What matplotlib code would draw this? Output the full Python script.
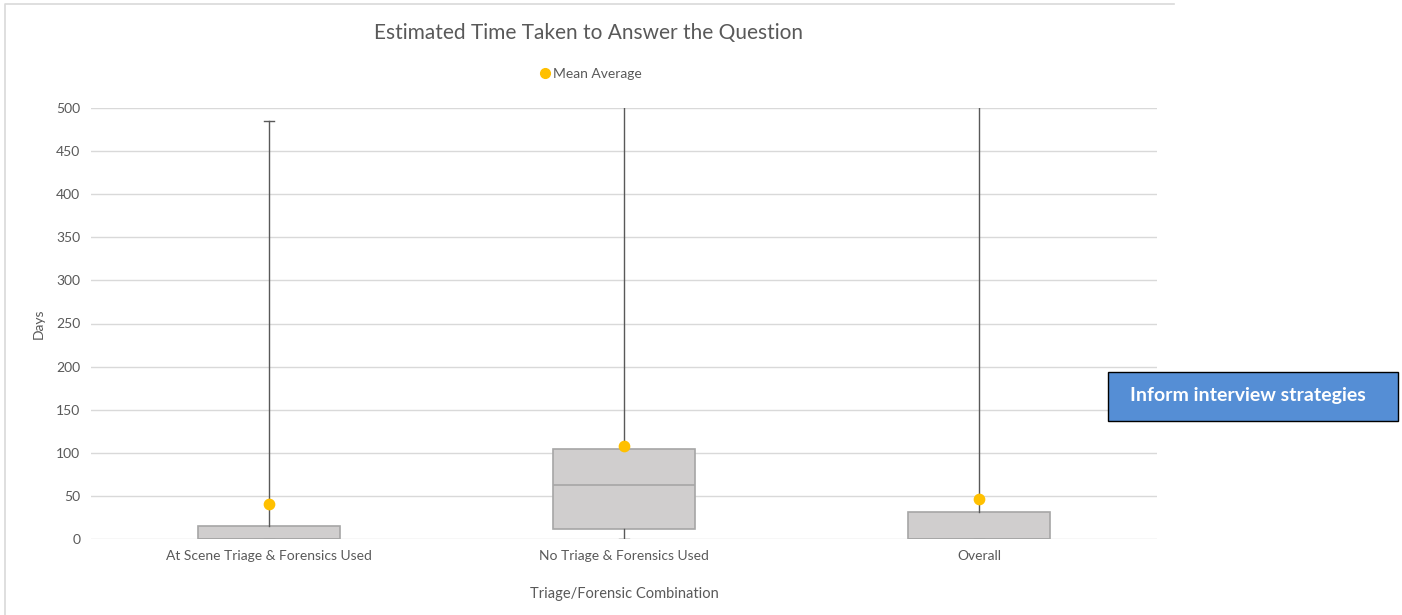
import matplotlib
matplotlib.use("Agg")
import matplotlib.pyplot as plt
from matplotlib.lines import Line2D
from matplotlib.patches import Rectangle

# ── Data ──────────────────────────────────────────────
GROUPS = ["At Scene Triage & Forensics Used", "No Triage & Forensics Used", "Overall"]
WHISK_LO = [0, 0, 0]
Q1 = [0, 12, 0]
MEDIAN = [0, 63, 0]
Q3 = [15, 104, 31]
WHISK_HI = [485, 620, 640]
MEAN = [41, 108, 46]
Y_TICKS = [0, 50, 100, 150, 200, 250, 300, 350, 400, 450, 500]

plt.rcParams["font.family"] = ["Lato", "DejaVu Sans"]

fig = plt.figure(figsize=(14.02, 6.15), dpi=100)
ax = fig.add_axes([91.5 / 1402, 1 - 539 / 615, 1065 / 1402, 431 / 615])

stats = []
for lab, lo, q1, med, q3, hi, mn in zip(GROUPS, WHISK_LO, Q1, MEDIAN, Q3, WHISK_HI, MEAN):
    stats.append(dict(label=lab, whislo=lo, q1=q1, med=med, q3=q3, whishi=hi, mean=mn, fliers=[]))

pos = list(range(len(GROUPS)))
ax.bxp(stats, positions=pos, widths=0.4, patch_artist=True, showmeans=False,
       boxprops=dict(facecolor="#D0CECE", edgecolor="#A6A6A6", linewidth=1.2),
       medianprops=dict(color="#A6A6A6", linewidth=1.2),
       whiskerprops=dict(color="#595959", linewidth=1.0),
       capprops=dict(color="#595959", linewidth=1.0),
       capwidths=0.03, zorder=3)
ax.scatter(pos, MEAN, s=55, color="#FFC000", zorder=5, clip_on=False)

ax.set_xlim(-0.5, len(GROUPS) - 0.5)
ax.set_ylim(0, 500)
ax.set_yticks(Y_TICKS)
ax.set_xticks(pos)
ax.set_xticklabels(GROUPS)
ax.yaxis.grid(True, color="#D9D9D9", linewidth=1.0)
ax.set_axisbelow(True)
for s in ax.spines.values():
    s.set_visible(False)
ax.tick_params(axis="both", length=0, labelsize=10, colors="#595959", pad=8)

ax.set_ylabel("Days", fontsize=10, color="#595959", labelpad=8)
ax.set_xlabel("Triage/Forensic Combination", fontsize=10.5, color="#595959", labelpad=18)

fig.text(589 / 1402, 1 - 33 / 615, "Estimated Time Taken to Answer the Question",
         ha="center", va="center", fontsize=15, color="#595959")

leg = fig.legend(handles=[Line2D([], [], marker="o", linestyle="none", color="#FFC000",
                                 markersize=7, label="Mean Average")],
                 loc="center", bbox_to_anchor=(590 / 1402, 1 - 74 / 615), frameon=False,
                 fontsize=10, handletextpad=0.1, handlelength=1.0)
for t in leg.get_texts():
    t.set_color("#595959")

# chart area border (top and left edges only)
fig.add_artist(Line2D([5 / 1402, 5 / 1402, 1174 / 1402], [0, 1 - 4 / 615, 1 - 4 / 615],
                      transform=fig.transFigure, color="#D9D9D9", linewidth=1.2))

# call-out box
fig.add_artist(Rectangle((1108 / 1402, 1 - 421 / 615), 290 / 1402, 49 / 615,
                         transform=fig.transFigure, facecolor="#558ED5",
                         edgecolor="#000000", linewidth=1.0))
fig.text(1248 / 1402, 1 - 396 / 615, "Inform interview strategies", ha="center",
         va="center", fontsize=14, fontweight="bold", color="white")

fig.savefig("out.png", dpi=100)
